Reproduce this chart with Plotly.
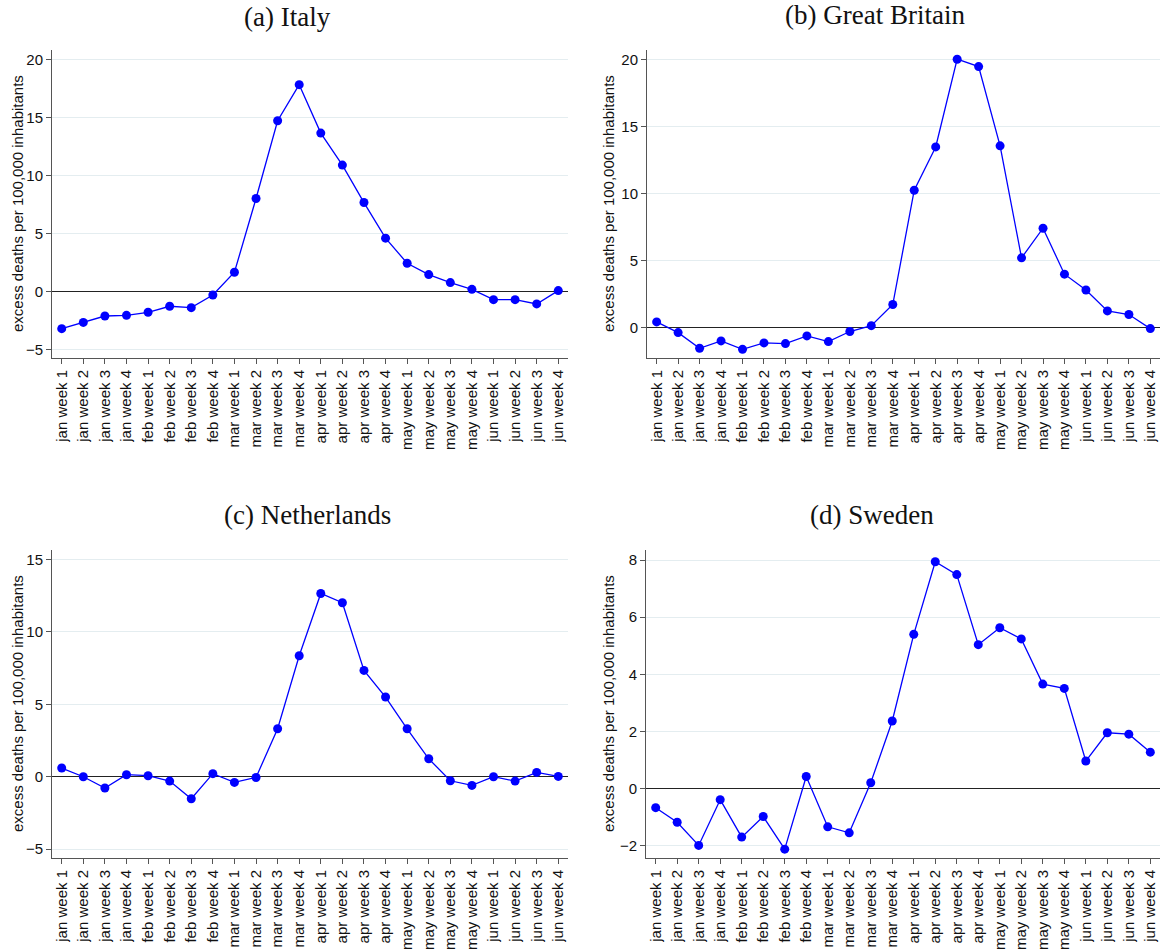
import plotly.graph_objects as go

# Week labels shared by all four panels
months = ["jan", "feb", "mar", "apr", "may", "jun"]
weeks = [f"{m} week {w}" for m in months for w in range(1, 5)]

# Excess deaths per 100,000 inhabitants, by week
italy = [-3.22, -2.68, -2.13, -2.07, -1.81, -1.29, -1.41, -0.32, 1.64, 8.0, 14.7, 17.81,
         13.64, 10.88, 7.65, 4.58, 2.42, 1.44, 0.75, 0.17, -0.72, -0.72, -1.09, 0.06]
great_britain = [0.40, -0.40, -1.57, -1.02, -1.65, -1.17, -1.22, -0.65, -1.07, -0.32, 0.12, 1.70,
                 10.25, 13.49, 20.05, 19.5, 13.57, 5.19, 7.41, 3.97, 2.79, 1.22, 0.95, -0.10]
netherlands = [0.60, 0.0, -0.78, 0.14, 0.07, -0.30, -1.52, 0.21, -0.39, -0.05, 3.31, 8.35,
               12.65, 12.01, 7.34, 5.50, 3.31, 1.24, -0.28, -0.60, 0.0, -0.30, 0.30, 0.02]
sweden = [-0.66, -1.17, -1.98, -0.38, -1.69, -0.97, -2.11, 0.43, -1.33, -1.54, 0.21, 2.37,
          5.40, 7.94, 7.49, 5.04, 5.63, 5.24, 3.66, 3.51, 0.97, 1.96, 1.91, 1.28]

panels = [
    ("(a) Italy", italy, [-5, 0, 5, 10, 15, 20], [-5.75, 20.8]),
    ("(b) Great Britain", great_britain, [0, 5, 10, 15, 20], [-2.3, 20.74]),
    ("(c) Netherlands", netherlands, [-5, 0, 5, 10, 15], [-5.61, 15.65]),
    ("(d) Sweden", sweden, [-2, 0, 2, 4, 6, 8], [-2.42, 8.35]),
]

W, H = 1169, 949
x_doms = [(52, 568), (647, 1160), (52, 568), (646, 1160)]
y_doms = [(50, 358), (50, 358), (550, 858), (550, 858)]
title_pos = [(287, 17), (875, 15), (307, 515), (872, 515)]
ytitle_x = [17, 608, 17, 608]

sans = "Liberation Sans, Arial, sans-serif"
serif = "Liberation Serif, Times New Roman, serif"
grid_col = "#e4edf0"
axis_col = "#555555"
xs = list(range(len(weeks)))

fig = go.Figure()
layout = dict(
    width=W, height=H,
    margin=dict(l=0, r=0, t=0, b=0),
    paper_bgcolor="white", plot_bgcolor="white",
    showlegend=False,
    annotations=[],
)

for i, (title, vals, yticks, yrange) in enumerate(panels):
    k = "" if i == 0 else str(i + 1)
    fig.add_trace(go.Scatter(
        x=xs, y=vals, mode="lines+markers",
        line=dict(color="#0000ff", width=1.3),
        marker=dict(color="#0000ff", size=9),
        xaxis="x" + k, yaxis="y" + k,
    ))
    x0, x1 = x_doms[i]
    y0, y1 = y_doms[i]
    layout["xaxis" + k] = dict(
        domain=[x0 / W, x1 / W], anchor="y" + k,
        range=[-0.45, 23.45],
        tickmode="array", tickvals=xs, ticktext=weeks,
        tickangle=-90, ticks="outside", ticklen=5, tickcolor=axis_col,
        tickfont=dict(family=sans, size=15, color="#111111"),
        showline=True, linecolor=axis_col, linewidth=1,
        showgrid=False, zeroline=False,
    )
    layout["yaxis" + k] = dict(
        domain=[1 - y1 / H, 1 - y0 / H], anchor="x" + k,
        range=yrange,
        tickmode="array", tickvals=yticks,
        ticks="outside", ticklen=5, tickcolor=axis_col,
        tickfont=dict(family=sans, size=15, color="#111111"),
        showline=True, linecolor=axis_col, linewidth=1,
        showgrid=True, gridcolor=grid_col, gridwidth=1,
        zeroline=True, zerolinecolor="#222222", zerolinewidth=1.3,
    )
    tx, ty = title_pos[i]
    layout["annotations"].append(dict(
        text=title, x=tx / W, y=1 - ty / H, xref="paper", yref="paper",
        xanchor="center", yanchor="middle", showarrow=False,
        font=dict(family=serif, size=27, color="#111111"),
    ))
    layout["annotations"].append(dict(
        text="excess deaths per 100,000 inhabitants",
        x=ytitle_x[i] / W, y=1 - (y0 + y1) / 2 / H, xref="paper", yref="paper",
        xanchor="center", yanchor="middle", textangle=-90, showarrow=False,
        font=dict(family=sans, size=15, color="#111111"),
    ))

fig.update_layout(**layout)
fig.write_html("out.html")
